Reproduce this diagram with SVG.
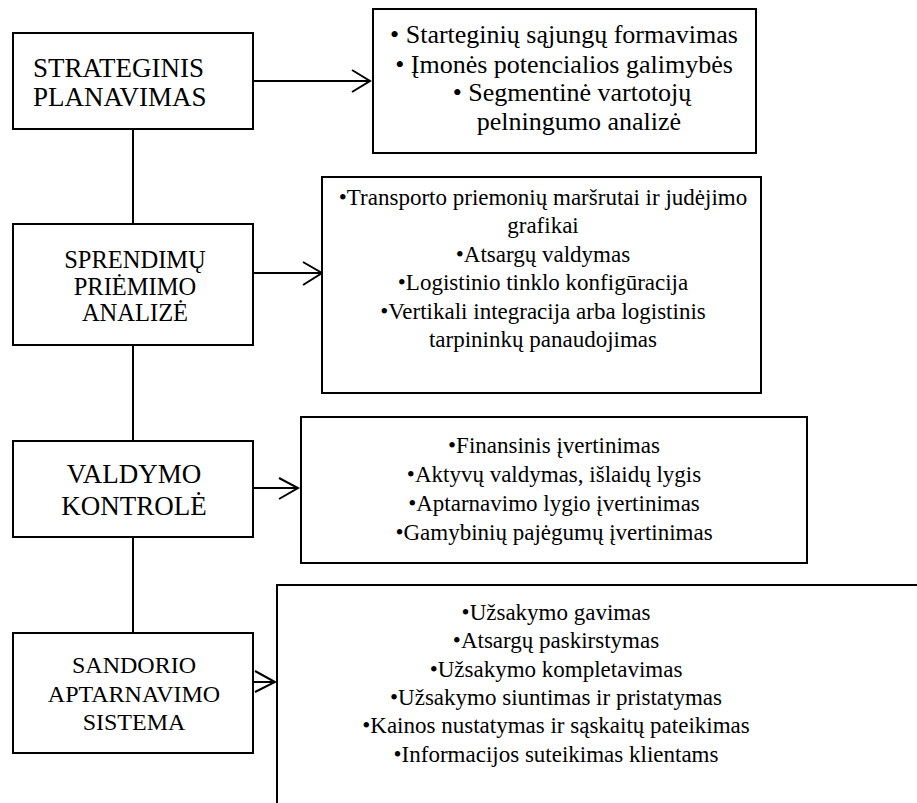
<svg xmlns="http://www.w3.org/2000/svg" width="917" height="803" viewBox="0 0 917 803">
<style>
.box{fill:#fff;stroke:#000;stroke-width:2}
.ln{fill:none;stroke:#000;stroke-width:2}
text{font-family:"Liberation Serif","Times New Roman",serif;fill:#000}
.c{text-anchor:middle}
.r{font-size:23px}
</style>
<rect width="917" height="803" fill="#fff"/>
<g id="connectors">
<path class="ln" d="M133 129V224M133 345V441M133 537V633"/>
<path class="ln" d="M253 81H370M352 70L370 81L352 92"/>
<path class="ln" d="M253 273H322M303 262L322 273L303 285"/>
<path class="ln" d="M253 488H298M279 478L298 488L279 499"/>
<path class="ln" d="M253 682H275M255 671L275 682L255 692"/>
</g>
<g id="n1">
<rect class="box" x="13" y="33" width="240" height="96"/>
<text x="33" y="77" font-size="27">STRATEGINIS</text>
<text x="33" y="106" font-size="27">PLANAVIMAS</text>
</g>
<g id="n2">
<rect class="box" x="13" y="224" width="240" height="121"/>
<text class="c" x="135" y="268" font-size="24.5">SPRENDIMŲ</text>
<text class="c" x="135" y="295" font-size="24.5">PRIĖMIMO</text>
<text class="c" x="135" y="321" font-size="24.5">ANALIZĖ</text>
</g>
<g id="n3">
<rect class="box" x="13" y="441" width="240" height="96"/>
<text class="c" x="134" y="483" font-size="27">VALDYMO</text>
<text class="c" x="134" y="515" font-size="27">KONTROLĖ</text>
</g>
<g id="n4">
<rect class="box" x="13" y="633" width="240" height="120"/>
<text class="c" x="134" y="673" font-size="24">SANDORIO</text>
<text class="c" x="134" y="702" font-size="24">APTARNAVIMO</text>
<text class="c" x="134" y="730" font-size="24">SISTEMA</text>
</g>
<g id="r1">
<rect class="box" x="373" y="9" width="383" height="144"/>
<text class="c" x="564" y="43" font-size="26">•  Starteginių sąjungų formavimas</text>
<text class="c" x="564" y="73" font-size="26">•  Įmonės potencialios galimybės</text>
<text class="c" x="572" y="101" font-size="26">•  Segmentinė vartotojų</text>
<text class="c" x="579" y="130" font-size="26">pelningumo analizė</text>
</g>
<g id="r2">
<rect class="box" x="322" y="177" width="439" height="216"/>
<text class="c r" x="543" y="205">•Transporto priemonių maršrutai ir judėjimo</text>
<text class="c r" x="543" y="233">grafikai</text>
<text class="c r" x="543" y="262">•Atsargų valdymas</text>
<text class="c r" x="543" y="290">•Logistinio tinklo konfigūracija</text>
<text class="c r" x="543" y="319">•Vertikali integracija arba logistinis</text>
<text class="c r" x="543" y="347">tarpininkų panaudojimas</text>
</g>
<g id="r3">
<rect class="box" x="301" y="417" width="506" height="146"/>
<text class="c r" x="554" y="453">•Finansinis įvertinimas</text>
<text class="c r" x="554" y="482">•Aktyvų valdymas, išlaidų lygis</text>
<text class="c r" x="554" y="511">•Aptarnavimo lygio įvertinimas</text>
<text class="c r" x="554" y="540">•Gamybinių pajėgumų įvertinimas</text>
</g>
<g id="r4">
<path class="ln" d="M277 803V585H917"/>
<text class="c r" x="556" y="620">•Užsakymo gavimas</text>
<text class="c r" x="556" y="648">•Atsargų paskirstymas</text>
<text class="c r" x="556" y="677">•Užsakymo kompletavimas</text>
<text class="c r" x="556" y="705">•Užsakymo siuntimas ir pristatymas</text>
<text class="c r" x="556" y="733">•Kainos nustatymas ir sąskaitų pateikimas</text>
<text class="c r" x="556" y="762">•Informacijos suteikimas klientams</text>
</g>
</svg>
